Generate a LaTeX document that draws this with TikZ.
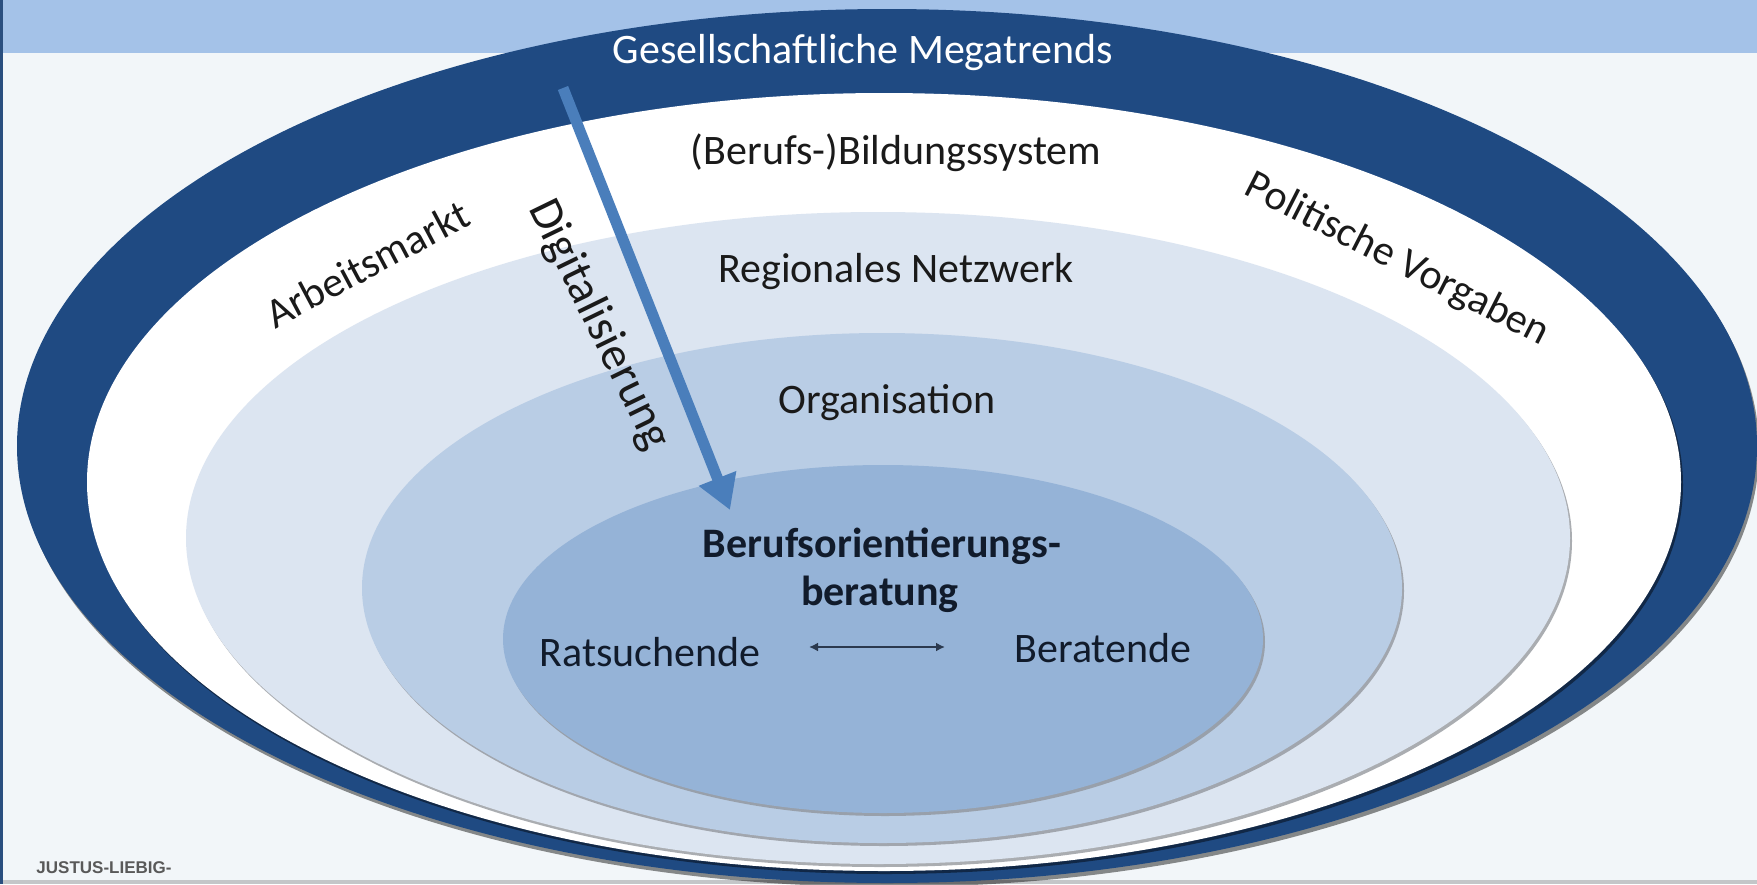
\documentclass[tikz,border=0pt]{standalone}
\usepackage{fontspec}
\setmainfont{Carlito}
\newfontfamily\logofont{Liberation Sans}
\usetikzlibrary{arrows.meta}
\definecolor{bgc}{HTML}{F2F6F9}
\definecolor{bandblue}{HTML}{A4C2E8}
\definecolor{darkring}{HTML}{1F4A82}
\definecolor{regionc}{HTML}{DCE5F1}
\definecolor{orgc}{HTML}{B9CDE5}
\definecolor{innerc}{HTML}{95B3D7}
\definecolor{arrowc}{HTML}{4A7EBB}
\definecolor{labelc}{HTML}{1A1A1A}
\definecolor{innerlabel}{HTML}{111B2B}
\definecolor{leftline}{HTML}{2A4F7F}
\definecolor{bottomline}{HTML}{C4C6C8}
\definecolor{shadowc}{HTML}{8E9298}
\begin{document}
\begin{tikzpicture}[x=1pt,y=-1pt,
  lbl/.style={inner sep=0pt, text=labelc, font=\fontsize{42}{50}\selectfont},
  innerlbl/.style={inner sep=0pt, text=innerlabel, font=\fontsize{42}{50}\selectfont},
  softshadow/.style={fill=shadowc, opacity=0.75},
  darkshadow/.style={fill=black, opacity=0.45}]
\useasboundingbox (0,0) rectangle (1757,884);
\fill[bgc] (0,0) rectangle (1757,884);
\fill[bandblue] (0,0) rectangle (1757,53);
\fill[bottomline] (0,880) rectangle (1757,884);
\begin{scope}
\clip (0,0) rectangle (1757,884);
% outer dark ring
\fill[darkshadow] (889,450) ellipse [x radius=870, y radius=437];
\fill[darkring] (887,446) ellipse [x radius=870, y radius=437];
% white ring
\fill[darkshadow] (886,485) ellipse [x radius=797, y radius=389];
\fill[white] (884,482) ellipse [x radius=797, y radius=389];
% regional network
\fill[softshadow] (880,541) ellipse [x radius=692, y radius=326];
\fill[regionc] (878,538) ellipse [x radius=692, y radius=326];
% organisation
\fill[softshadow] (884,591) ellipse [x radius=520, y radius=255];
\fill[orgc] (882,588) ellipse [x radius=520, y radius=255];
% inner
\fill[softshadow] (885,642) ellipse [x radius=380, y radius=174];
\fill[innerc] (883,639) ellipse [x radius=380, y radius=174];
\end{scope}
\fill[leftline] (0,0) rectangle (3,884);

% labels
\node[lbl, text=white] (mega) at (863,53) {Gesellschaftliche Megatrends};
\node[lbl] (bild) at (896,153) {(Berufs-)Bildungssystem};
\node[lbl] (reg) at (896,272) {Regionales Netzwerk};
\node[lbl] (org) at (887,403) {Organisation};
\node[lbl, rotate=28] (arb) at (367,264) {Arbeitsmarkt};
\node[lbl, rotate=-27] (pol) at (1397,260) {Politische Vorgaben};
\node[innerlbl, font=\fontsize{42}{50}\selectfont\bfseries] (bo1) at (882,546) {Berufsorientierungs-};
\node[innerlbl, font=\fontsize{42}{50}\selectfont\bfseries] (bo2) at (880,594) {beratung};
\node[innerlbl] (rats) at (650,652) {Ratsuchende};
\node[innerlbl] (bera) at (1103,648) {Beratende};
\node[lbl, font=\fontsize{47}{56}\selectfont, rotate=-64] (dig) at (599,325) {Digitalisierung};
\node[inner sep=0pt, text=gray!70!black, font=\logofont\bfseries\fontsize{17}{20}\selectfont] (logo) at (104,868) {JUSTUS-LIEBIG-};

% Digitalisierung arrow
\coordinate (digA) at (563,88);
\coordinate (digB) at (730,510);
\draw[arrowc, line width=11pt, -{Triangle[width=38pt,length=34pt]}] (digA) -- (digB);

% double arrow
\coordinate (ab1) at (809,647);
\coordinate (ab2) at (945,647);
\draw[innerlabel!80!innerc, line width=2.2pt, {Latex[width=9pt,length=9pt]}-{Latex[width=9pt,length=9pt]}] (ab1) -- (ab2);
\end{tikzpicture}
\end{document}
